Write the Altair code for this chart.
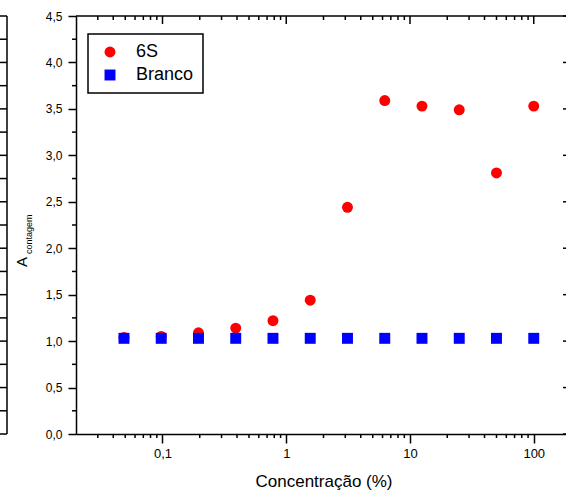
import altair as alt
import pandas as pd

# Data
conc = [0.048828125, 0.09765625, 0.1953125, 0.390625, 0.78125, 1.5625,
        3.125, 6.25, 12.5, 25, 50, 100]
a_6s = [1.04, 1.05, 1.09, 1.14, 1.22, 1.44, 2.44, 3.59, 3.53, 3.49, 2.81, 3.53]
a_branco = [1.03, 1.03, 1.03, 1.03, 1.03, 1.03, 1.03, 1.03, 1.03, 1.03, 1.03, 1.03]
series_names = ["6S", "Branco"]

x_major = [0.1, 1, 10, 100]
x_minor = [m * d for d in [0.01, 0.1, 1, 10] for m in range(2, 10) if 0.02 < m * d < 200]
y_major = [i * 0.5 for i in range(10)]
y_minor = [0.25 + i * 0.5 for i in range(9)]
y_all = sorted(y_major + y_minor)

W, H = 495, 418
FONT = "Liberation Sans"

xscale = alt.Scale(type="log", domain=[0.02, 200], nice=False)
yscale = alt.Scale(domain=[0, 4.5], nice=False, zero=False)

x_axis = alt.Axis(values=x_major, title="Concentração (%)",
                  labelExpr="replace(format(datum.value, '~g'), '.', ',')",
                  tickSize=9, labelPadding=4, labelFontSize=13,
                  titleFontSize=17, titlePadding=13, grid=False)
y_axis = alt.Axis(values=y_major, title="",
                  labelExpr="replace(format(datum.value, '.1f'), '.', ',')",
                  tickSize=8, labelPadding=6, labelFontSize=12, grid=False)

df = pd.DataFrame({
    "conc": conc * 2,
    "A": a_6s + a_branco,
    "serie": ["6S"] * len(conc) + ["Branco"] * len(conc),
})

points = alt.Chart(df).mark_point(filled=True, size=120, opacity=1).encode(
    x=alt.X("conc:Q", scale=xscale, axis=x_axis),
    y=alt.Y("A:Q", scale=yscale, axis=y_axis),
    color=alt.Color("serie:N", scale=alt.Scale(domain=series_names, range=["#ff0000", "#0000ff"]),
                    legend=alt.Legend(title=None, orient="none", legendX=12, legendY=18)),
    shape=alt.Shape("serie:N", scale=alt.Scale(domain=series_names, range=["circle", "square"])),
)

def xrule(vals, y0, y1):
    return alt.Chart(pd.DataFrame({"conc": vals})).mark_rule(color="black", strokeWidth=1.5).encode(
        x=alt.X("conc:Q", scale=xscale, axis=x_axis), y=alt.value(y0), y2=alt.value(y1))

def yrule(vals, x0, x1):
    return alt.Chart(pd.DataFrame({"A": vals})).mark_rule(color="black", strokeWidth=1.5).encode(
        y=alt.Y("A:Q", scale=yscale, axis=y_axis), x=alt.value(x0), x2=alt.value(x1))

frame_top = alt.Chart(pd.DataFrame({"t": [0]})).mark_rule(color="black", strokeWidth=1.5).encode(
    x=alt.value(0), x2=alt.value(W), y=alt.value(0))
frame_right = alt.Chart(pd.DataFrame({"t": [0]})).mark_rule(color="black", strokeWidth=1.5).encode(
    x=alt.value(W), y=alt.value(0), y2=alt.value(H))
remnant = alt.Chart(pd.DataFrame({"t": [0]})).mark_rule(color="black", strokeWidth=1.5).encode(
    x=alt.value(-69), y=alt.value(0), y2=alt.value(H))

title_a = alt.Chart(pd.DataFrame({"t": ["A"]})).mark_text(
    angle=270, align="left", baseline="alphabetic", font=FONT, fontSize=15, color="black"
).encode(text="t:N", x=alt.value(-49), y=alt.value(251))
title_sub = alt.Chart(pd.DataFrame({"t": ["contagem"]})).mark_text(
    angle=270, align="left", baseline="alphabetic", font=FONT, fontSize=9, color="black"
).encode(text="t:N", x=alt.value(-44), y=alt.value(238))

chart = alt.layer(
    points,
    xrule(x_minor, H, H + 4),
    xrule(x_major, 0, 8),
    xrule(x_minor, 0, 4),
    yrule(y_minor, -4, 0),
    yrule(y_major, W - 8, W),
    yrule(y_minor, W - 4, W),
    yrule(y_all, -80, -69),
    frame_top, frame_right, remnant,
    title_a, title_sub,
).properties(
    width=W, height=H,
    autosize=alt.AutoSizeParams(type="none"),
    padding={"left": 76, "top": 16, "right": -5, "bottom": 63},
).configure_view(stroke=None).configure_axis(
    domainColor="black", domainWidth=1.5, tickColor="black", tickWidth=1.5,
    labelFont=FONT, titleFont=FONT, labelColor="black", titleColor="black",
    titleFontWeight="normal",
).configure_legend(
    strokeColor="black", strokeWidth=1.5, fillColor="white", padding=9,
    labelFont=FONT, labelFontSize=18, labelColor="black", symbolSize=120,
    symbolOffset=4, labelOffset=17, rowPadding=5, symbolStrokeWidth=0,
)

chart.save("out.html", embed_options={"renderer": "svg", "actions": False})
